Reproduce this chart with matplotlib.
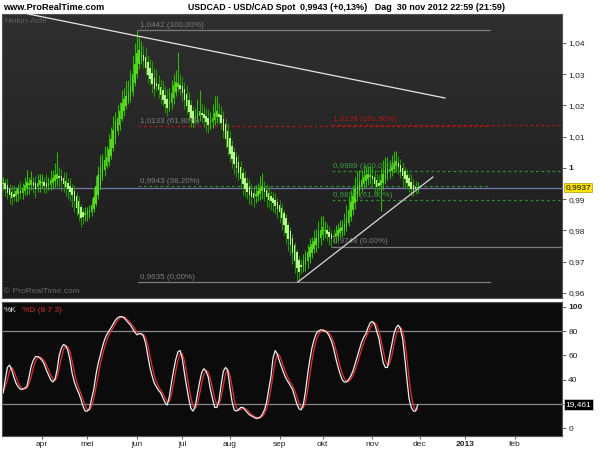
import numpy as np
import pandas as pd
import matplotlib
matplotlib.use('Agg')
import matplotlib.pyplot as plt
from matplotlib.colors import LinearSegmentedColormap
from matplotlib.transforms import blended_transform_factory

plt.rcParams['font.family'] = ['Liberation Sans', 'DejaVu Sans']

# ---- data ----
dates = pd.bdate_range('2012-03-07', periods=193)

# Heikin-Ashi close per bar
ha_close = [
    0.9950, 0.9935, 0.9920, 0.9915, 0.9905, 0.9910, 0.9925, 0.9930, 0.9920, 0.9935, 0.9945, 0.9955, 0.9950, 0.9960, 0.9945, 0.9935, 0.9950, 0.9960,
    0.9955, 0.9945, 0.9940, 0.9950, 0.9960, 0.9965, 0.9975, 0.9980, 0.9970, 0.9960, 0.9950, 0.9940, 0.9935, 0.9925, 0.9915, 0.9895, 0.9875, 0.9855,
    0.9840, 0.9845, 0.9855, 0.9860, 0.9865, 0.9880, 0.9905, 0.9940, 0.9975,
    1.0000, 1.0015, 1.0025, 1.0035, 1.0060, 1.0090, 1.0120, 1.0145, 1.0160, 1.0180, 1.0205, 1.0220, 1.0230, 1.0240, 1.0260, 1.0300, 1.0330, 1.0365,
    1.0375, 1.0365, 1.0345, 1.0320, 1.0300, 1.0285, 1.0270, 1.0255, 1.0265, 1.0250, 1.0235, 1.0220, 1.0205, 1.0195, 1.0210, 1.0240, 1.0265, 1.0275,
    1.0270, 1.0255, 1.0240, 1.0220, 1.0200, 1.0180, 1.0160, 1.0145, 1.0160, 1.0175, 1.0180, 1.0170, 1.0160, 1.0150, 1.0140, 1.0150, 1.0160, 1.0175, 1.0180, 1.0165,
    1.0145, 1.0120, 1.0095, 1.0070, 1.0045, 1.0030, 1.0015, 1.0000, 0.9985, 0.9965, 0.9950, 0.9935, 0.9925, 0.9915, 0.9910,
    0.9905, 0.9915, 0.9925, 0.9935, 0.9940, 0.9925, 0.9910, 0.9900, 0.9895, 0.9890, 0.9880, 0.9870, 0.9860, 0.9840, 0.9820, 0.9795, 0.9775, 0.9755, 0.9730, 0.9705, 0.9680, 0.9670,
    0.9685, 0.9700, 0.9715, 0.9730, 0.9745, 0.9755, 0.9765, 0.9775, 0.9790, 0.9800, 0.9810, 0.9800, 0.9790, 0.9780, 0.9775, 0.9780, 0.9790, 0.9800, 0.9805, 0.9810, 0.9820, 0.9840, 0.9865, 0.9890, 0.9910, 0.9930, 0.9945, 0.9955,
    0.9960, 0.9970, 0.9975, 0.9980, 0.9975, 0.9965, 0.9950, 0.9940, 0.9945, 0.9960, 0.9980, 0.9995, 1.0000, 0.9995, 1.0005, 1.0015, 1.0020, 1.0005, 0.9990, 0.9975, 0.9965, 0.9955, 0.9945, 0.9935, 0.9930, 0.9935, 0.9938,
]

# wick lengths beyond the body, in pips
wick_up = [
    20, 15, 25, 18, 22, 30, 15, 20, 35, 18, 25, 40, 22, 30, 18, 25, 30, 20,
    25, 18, 30, 22, 35, 28, 40, 70, 30, 25, 20, 28, 18, 25, 15, 20, 15, 18,
    12, 15, 20, 15, 18, 25, 30, 35, 30,
    40, 30, 45, 35, 50, 40, 45, 35, 40, 30, 45, 35, 50, 40, 55, 60, 70, 77,
    45, 40, 30, 35, 25, 30, 40, 35, 45, 30, 25, 30, 28, 35, 45, 40, 35, 40,
    100, 35, 30, 25, 30, 25, 20, 18, 30, 45, 70, 35, 30, 25, 30, 28, 45, 55, 50, 35,
    30, 25, 20, 28, 25, 22, 18, 20, 25, 22, 18, 25, 20, 28, 22,
    25, 30, 28, 40, 45, 25, 20, 22, 18, 20, 25, 15, 18, 15, 12, 15, 12, 15, 12, 10, 12, 15,
    20, 25, 22, 28, 30, 25, 35, 30, 40, 45, 35, 30, 25, 20, 15, 22, 28, 25, 30, 25, 35, 40, 45, 40, 35, 40, 45, 40,
    35, 40, 30, 25, 30, 28, 25, 22, 30, 40, 45, 40, 35, 30, 35, 40, 35, 25, 20, 18, 15, 20, 18, 25, 20, 22, 18,
]
wick_dn = [
    20, 25, 18, 30, 22, 15, 20, 25, 18, 20, 15, 22, 28, 18, 25, 30, 20, 22,
    18, 25, 20, 15, 18, 22, 20, 25, 30, 35, 28, 30, 35, 30, 40, 35, 30, 25,
    30, 25, 20, 22, 18, 15, 12, 10, 12,
    15, 12, 18, 10, 15, 12, 10, 15, 12, 18, 10, 15, 12, 10, 15, 12, 10, 12,
    15, 20, 25, 22, 28, 20, 30, 25, 20, 25, 30, 22, 28, 30, 25, 20, 18, 15,
    15, 20, 25, 30, 28, 25, 30, 17, 20, 15, 18, 25, 30, 35, 28, 25, 20, 18, 22, 25,
    20, 25, 30, 28, 25, 30, 35, 28, 25, 30, 35, 28, 25, 30, 28,
    30, 25, 20, 22, 25, 30, 35, 28, 30, 32, 28, 30, 35, 40, 35, 38, 40, 35, 38, 40, 45, 30,
    25, 20, 22, 25, 20, 18, 15, 22, 20, 25, 18, 22, 25, 28, 27, 20, 22, 18, 15, 20, 18, 15, 12, 15, 18, 20, 15, 18,
    18, 15, 20, 22, 25, 30, 28, 25, 20, 85, 25, 18, 20, 22, 18, 15, 20, 25, 22, 28, 25, 20, 22, 25, 20, 18, 15,
]

# stochastic %K (8 7 3)
stoch_k = [
    29, 40, 50, 52, 48, 42, 37, 34, 32, 32, 33, 34, 42, 51, 56, 59, 59, 58,
    56, 53, 48, 44, 40, 38, 40, 48, 60, 66, 69, 68, 64, 56, 45, 38, 33, 29,
    24, 18, 14, 14, 16, 24, 32, 44, 53,
    60, 67, 73, 77, 80, 83, 86, 89, 91, 92, 92, 91, 89, 87, 85, 82, 79, 77,
    78, 78, 76, 70, 60, 50, 43, 37, 34, 31, 29, 25, 21, 19, 26, 38, 48, 57,
    63, 64, 57, 45, 34, 24, 16, 14, 18, 28, 38, 46, 49, 47, 42, 32, 24, 17, 17, 23,
    36, 47, 50, 48, 34, 22, 15, 14, 15, 17, 17, 15, 13, 11, 10,
    9, 8, 8, 9, 11, 15, 21, 32, 42, 58, 64, 61, 55, 50, 45, 41, 38, 35, 32, 26, 20, 16,
    15, 19, 30, 44, 56, 66, 73, 78, 80, 81, 81, 80, 79, 76, 72, 66, 58, 51, 45, 40, 38, 38, 40, 43, 47, 53, 59, 65,
    71, 75, 78, 83, 87, 88, 86, 80, 74, 64, 54, 50, 50, 60, 69, 78, 83, 85, 82, 74, 58, 40, 24, 17, 14, 14, 19,
]

last_price = 0.9937
last_stoch = 19.461

month_labels = ['apr', 'mei', 'jun', 'jul', 'aug', 'sep', 'okt', 'nov', 'dec', '2013', 'feb']

# fibonacci retracement 1 (peak -> low) and extension 2
fib1_levels = [1.0442, 1.0133, 0.9943, 0.9635]
fib1_labels = ['1,0442 (100,00%)', '1,0133 (61,80%)', '0,9943 (38,20%)', '0,9635 (0,00%)']
fib1_span = [62.5, 225.4]
fib2_levels = [1.0139, 0.9989, 0.9897, 0.9748]
fib2_labels = ['1,0139 (161,80%)', '0,9989 (100,00%)', '0,9897 (61,80%)', '0,9748 (0,00%)']
fib2_span = [152.3, 258.8]

# trend lines (bar index, price)
res_x, res_y = [11.5, 204.6], [1.0493, 1.0224]
sup_x, sup_y = [136.5, 199.0], [0.9635, 0.9971]

# ---- figure ----
fig = plt.figure(figsize=(6, 4.5), dpi=100, facecolor='white')
W, H = 600.0, 450.0
ax = fig.add_axes([2 / W, 1 - 298 / H, 560 / W, 284 / H])
ax2 = fig.add_axes([2 / W, 1 - 436 / H, 560 / W, 134 / H], sharex=ax)

xmin, xmax = -0.5, 258.8
ymin, ymax = 0.9584, 1.04928

grad = np.linspace(0, 1, 256).reshape(-1, 1)
cm = LinearSegmentedColormap.from_list('bg', ['#2f2f2f', '#1b1b1b'])
ax.imshow(grad, cmap=cm, extent=[xmin, xmax, ymin, ymax], aspect='auto', zorder=0)
ax2.set_facecolor('#0b0b0b')

# heikin-ashi
c = np.array(ha_close)
o = np.empty_like(c)
o[0] = c[0]
for k in range(1, len(c)):
    o[k] = (o[k - 1] + c[k - 1]) / 2
hi = np.maximum(o, c) + np.array(wick_up) / 1e4
lo = np.minimum(o, c) - np.array(wick_dn) / 1e4
x = np.arange(len(c))
up = c >= o
wick_cols = ['#2fb800' if u else '#259400' for u in up]
body_cols = ['#56d61c' if u else '#b6f68c' for u in up]
ax.vlines(x, lo, hi, colors=wick_cols, lw=0.8, zorder=3)
ax.bar(x, np.abs(c - o) + 0.0003, bottom=np.minimum(o, c) - 0.00015, width=0.7,
       color=body_cols, linewidth=0, zorder=4)

# current price line
ax.axhline(last_price, color='#7474b0', lw=0.9, zorder=2)

fcol = '#7d7d7d'
red = '#b31515'
grn = '#2f8f2f'
dot = (0, (2.2, 2.2))
styles1 = [(fcol, '-'), (red, dot), (grn, dot), (fcol, '-')]
for lvl, lab, (col, ls) in zip(fib1_levels, fib1_labels, styles1):
    ax.plot(fib1_span, [lvl, lvl], color=col, ls=ls, lw=0.9, zorder=2)
    ax.text(fib1_span[0] + 1, lvl + 0.0004, lab, color=fcol, fontsize=5.8, va='bottom', zorder=5)
styles2 = [(red, dot), (grn, dot), (grn, dot), (fcol, '-')]
lcol2 = [red, '#3a9a3a', '#3a9a3a', fcol]
for lvl, lab, (col, ls), tc in zip(fib2_levels, fib2_labels, styles2, lcol2):
    ax.plot(fib2_span, [lvl, lvl], color=col, ls=ls, lw=0.9, zorder=2)
    ax.text(fib2_span[0] + 0.5, lvl + 0.0004, lab, color=tc, fontsize=5.8, va='bottom', zorder=5)

ax.plot(res_x, res_y, color='#e6e6e6', lw=0.9, zorder=5)
ax.plot(sup_x, sup_y, color='#d8d8d8', lw=0.9, zorder=5)

ax.set_xlim(xmin, xmax)
ax.set_ylim(ymin, ymax)
yt = np.round(np.arange(0.96, 1.0401, 0.01), 2)
ax.yaxis.tick_right()
ax.set_yticks(yt)
ax.set_yticklabels([('%.2f' % v).rstrip('0').rstrip('.').replace('.', ',') for v in yt])
for t in ax.get_yticklabels():
    if t.get_text() == '1':
        t.set_fontweight('bold')
ax.tick_params(axis='y', direction='out', length=3, width=0.6, colors='#444444',
               labelsize=6, labelcolor='#222222', pad=1.5)
ax.tick_params(axis='x', bottom=False, labelbottom=False)
for s in ax.spines.values():
    s.set_color('#555555')
    s.set_linewidth(0.8)

tr = blended_transform_factory(ax.transAxes, ax.transData)
ax.text(1.006, last_price, '0,9937', transform=tr, fontsize=6, va='center', ha='left', zorder=10,
        bbox=dict(boxstyle='square,pad=0.15', fc='#ffe600', ec='#b09a00', lw=0.5), clip_on=False)
ax.text(0.004, 0.985, 'Heikin-Ashi', transform=ax.transAxes, fontsize=6, color='#5e5e5e', va='top')
ax.text(0.004, 0.012, '\u00a9 ProRealTime.com', transform=ax.transAxes, fontsize=6, color='#6a6a6a', va='bottom')

# stochastic
k = pd.Series(stoch_k, dtype=float)
d = k.rolling(3, min_periods=1).mean()
ax2.axhline(80, color='#8a8a8a', lw=0.9)
ax2.axhline(20, color='#8a8a8a', lw=0.9)
ax2.plot(x, d, color='#e03030', lw=0.9)
ax2.plot(x, k, color='#eeeeee', lw=0.9)
ax2.set_ylim(-6.6, 104.1)
ax2.yaxis.tick_right()
ax2.set_yticks([0, 20, 40, 60, 80, 100])
# the 20 label sits under the last-value box
ax2.set_yticklabels(['0', '', '40', '60', '80', '100'])
for t in ax2.get_yticklabels():
    if t.get_text() == '100':
        t.set_fontweight('bold')
ax2.tick_params(axis='y', direction='out', length=3, width=0.6, colors='#444444',
                labelsize=6, labelcolor='#222222', pad=1.5)
for s in ax2.spines.values():
    s.set_color('#555555')
    s.set_linewidth(0.8)
tr2 = blended_transform_factory(ax2.transAxes, ax2.transData)
ax2.text(1.006, last_stoch, '19,461', transform=tr2, fontsize=6, color='white', va='center', ha='left',
         zorder=10, bbox=dict(boxstyle='square,pad=0.2', fc='black', ec='#cccccc', lw=0.6), clip_on=False)
ax2.text(0.004, 0.96, '%K', transform=ax2.transAxes, fontsize=6, color='#dddddd', va='top')
ax2.text(0.035, 0.96, '%D (8 7 3)', transform=ax2.transAxes, fontsize=6, color='#cc3030', va='top')

full = pd.bdate_range(dates[0], periods=260)
firsts = [i for i in range(1, len(full)) if full[i].month != full[i - 1].month]
ax2.set_xticks(firsts[:len(month_labels)])
ax2.set_xticklabels(month_labels)
for t in ax2.get_xticklabels():
    if t.get_text() == '2013':
        t.set_fontweight('bold')
ax2.tick_params(axis='x', direction='out', length=2, width=0.6, colors='#444444',
                labelsize=6, labelcolor='#222222', pad=1.5)
ax2.set_xlim(xmin, xmax)

# header
fy = 1 - 8 / H
fig.text(3 / W, fy, 'www.ProRealTime.com', fontsize=6.6, fontweight='bold', va='center')
fig.text(188 / W, fy, 'USDCAD - USD/CAD Spot', fontsize=6.3, fontweight='bold', va='center')
fig.text(300 / W, fy, '0,9943 (+0,13%)   Dag  30 nov 2012 22:59 (21:59)', fontsize=6.5,
         fontweight='bold', va='center')

fig.savefig('out.png', dpi=100, facecolor='white')
